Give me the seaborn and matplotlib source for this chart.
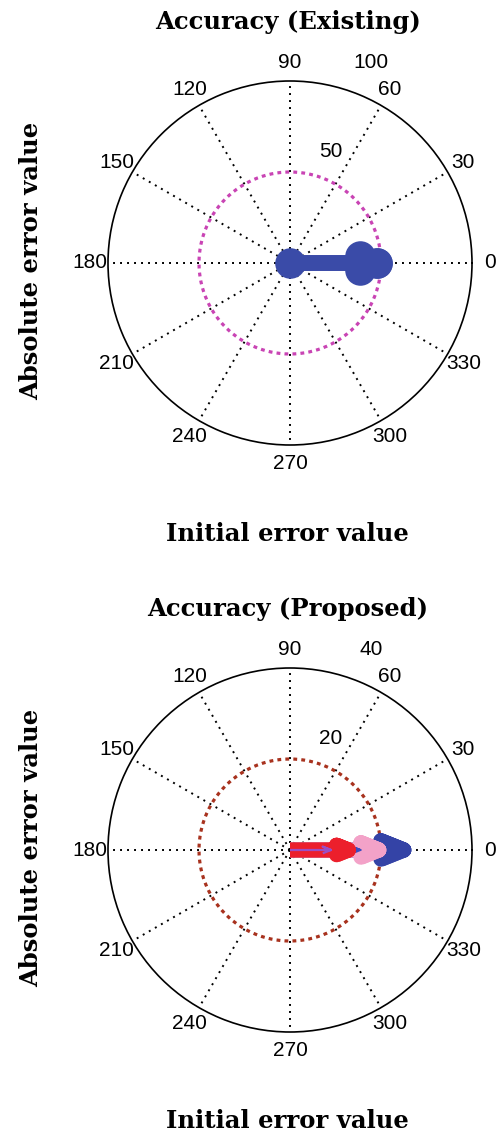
import numpy as np
import matplotlib
matplotlib.use("Agg")
import matplotlib.pyplot as plt
import seaborn as sns

# ---- chart text -------------------------------------------------------------
titles = ["Accuracy (Existing)", "Accuracy (Proposed)"]
x_label = "Initial error value"
y_label = "Absolute error value"

# angular grid (degrees) and its labels
theta_ticks = [0, 30, 60, 90, 120, 150, 180, 210, 240, 270, 300, 330]
theta_labels = [str(t) for t in theta_ticks]

# radial scale of each panel: inner ring, outer limit
existing_rticks = [50, 100]
proposed_rticks = [20, 40]

# error vectors: magnitude and direction (degrees)
existing_mag = [48]
existing_dir = [0]
existing_colors = ["#3a4ba8"]

proposed_mag = [25, 19.5, 15.5, 12.8, 9]
proposed_dir = [0, 0, 0, 0, 0]
proposed_colors = ["#3443a6", "#f3a2c8", "#3a4cc0", "#ec1f2c", "#9b4fc4"]
proposed_lw = [11, 11, 1.4, 11, 1.6]

ring_colors = ["#c944b4", "#a8321e"]

sns.set_theme(style="white")
plt.rcParams["font.family"] = ["Liberation Sans", "DejaVu Sans"]
plt.rcParams["text.color"] = "black"

fig = plt.figure(figsize=(4.96, 11.36), dpi=100)
W, H = 496, 1136
R = 182  # outer radius in pixels


def polar_axes(cx, cy):
    rect = [(cx - R) / W, (H - cy - R) / H, 2 * R / W, 2 * R / H]
    return fig.add_axes(rect, projection="polar")


def compass_arrow(ax, mag, ang, color, lw, ms=0):
    # arrow outline: base -> tip -> barb -> tip -> barb
    a = np.array([0, 1, 0.8, 1, 0.8]) * mag
    b = np.array([0, 0, 0.08, 0, -0.08]) * mag
    th = np.arctan2(b, a) + np.deg2rad(ang)
    r = np.hypot(a, b)
    kw = dict(color=color, lw=lw, solid_joinstyle="round",
              solid_capstyle="butt", zorder=5)
    if ms:
        kw.update(marker="o", ms=ms, markeredgewidth=0)
    ax.plot(th, r, **kw)
    if lw > 3:
        # solid head between the barbs
        ax.fill(th[[1, 2, 4]], r[[1, 2, 4]], color=color, lw=lw,
                joinstyle="round", zorder=5)


def draw_panel(ax, rticks, mags, dirs, colors, widths, ring_color, ms):
    rmax = rticks[-1]
    ax.set_ylim(0, rmax)
    ax.set_xticks(np.deg2rad(theta_ticks))
    ax.set_xticklabels([])
    ax.set_yticks([])
    ax.grid(False)
    ax.xaxis.grid(True, color="black", lw=1.4, linestyle=(0, (1, 2.6)))
    ax.spines["polar"].set_color("black")
    ax.spines["polar"].set_linewidth(1.2)
    ax.set_facecolor("white")

    # dotted inner ring
    ring_theta = np.linspace(0, 2 * np.pi, 721)
    sns.lineplot(x=ring_theta, y=np.full_like(ring_theta, rticks[0]), ax=ax,
                 sort=False, color=ring_color, lw=2.3, dashes=False,
                 estimator=None, zorder=3)
    ax.lines[-1].set_linestyle((0, (1.2, 1.3)))
    ax.set_xlabel("")
    ax.set_ylabel("")

    for m, d, c, w in zip(mags, dirs, colors, widths):
        compass_arrow(ax, m, d, c, w, ms)

    # angle labels around the rim
    for t, lab in zip(theta_ticks, theta_labels):
        ax.text(np.deg2rad(t), 1.1 * rmax, lab, ha="center", va="center",
                fontsize=15, clip_on=False)
    # radial labels
    ax.text(np.deg2rad(70), 0.65 * rmax, str(rticks[0]), ha="center",
            va="center", fontsize=15, clip_on=False)
    ax.text(np.deg2rad(68), 1.19 * rmax, str(rticks[1]), ha="center",
            va="center", fontsize=15, clip_on=False)


serif = dict(family="DejaVu Serif", fontweight="bold", fontsize=17.5,
             color="black")

panels = [
    (263, existing_rticks, existing_mag, existing_dir, existing_colors,
     [11.5] * len(existing_mag), ring_colors[0], 22),
    (850, proposed_rticks, proposed_mag, proposed_dir, proposed_colors,
     proposed_lw, ring_colors[1], 0),
]

for i, (cy, rt, mg, dr, cl, lw, rc, ms) in enumerate(panels):
    ax = polar_axes(290, cy)
    draw_panel(ax, rt, mg, dr, cl, lw, rc, ms)
    fig.text(288 / W, 1 - (cy - 241) / H, titles[i], ha="center",
             va="center", **serif)
    fig.text(287 / W, 1 - (cy + 271) / H, x_label, ha="center",
             va="center", **serif)
    fig.text(31 / W, 1 - (cy - 2) / H, y_label, ha="center", va="center",
             rotation=90, **serif)

fig.savefig("out.png", dpi=100, facecolor="white")
